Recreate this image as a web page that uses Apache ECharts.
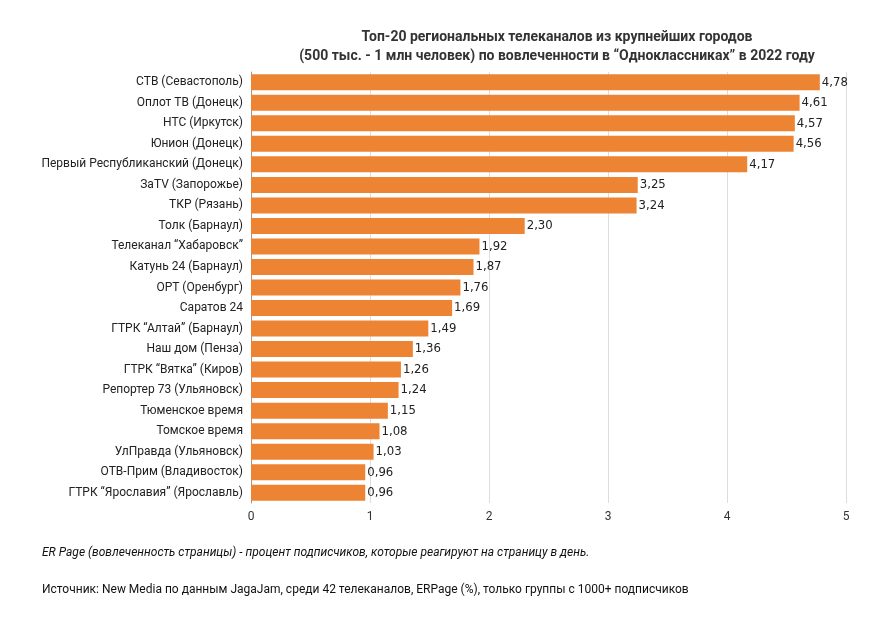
<!DOCTYPE html>
<html><head><meta charset="utf-8">
<script src="https://cdn.jsdelivr.net/npm/echarts@6/dist/echarts.min.js"></script>
<style>body{margin:0}#c{width:885px;height:623px}</style></head>
<body><div id="c"></div>
<script>
var categories = ['СТВ (Севастополь)','Оплот ТВ (Донецк)','НТС (Иркутск)','Юнион (Донецк)','Первый Республиканский (Донецк)','ЗаTV (Запорожье)','ТКР (Рязань)','Толк (Барнаул)','Телеканал “Хабаровск”','Катунь 24 (Барнаул)','ОРТ (Оренбург)','Саратов 24','ГТРК “Алтай” (Барнаул)','Наш дом (Пенза)','ГТРК “Вятка” (Киров)','Репортер 73 (Ульяновск)','Тюменское время','Томское время','УлПравда (Ульяновск)','ОТВ-Прим (Владивосток)','ГТРК “Ярославия” (Ярославль)'];
var values = [4.78,4.61,4.57,4.56,4.17,3.25,3.24,2.30,1.92,1.87,1.76,1.69,1.49,1.36,1.26,1.24,1.15,1.08,1.03,0.96,0.96];

var chart = echarts.init(document.getElementById('c'));
chart.setOption({
  textStyle: { fontFamily: 'Roboto, sans-serif' },
  title: {
    text: 'Топ-20 региональных телеканалов из крупнейших городов\n(500 тыс. - 1 млн человек) по вовлеченности в “Одноклассниках” в 2022 году',
    left: 552, top: 23, textAlign: 'center',
    textStyle: { fontSize: 14, fontWeight: 'bold', color: '#333', lineHeight: 19 }
  },
  graphic: [
    { type: 'text', left: 42, top: 547, style: { text: 'ER Page (вовлеченность страницы) - процент подписчиков, которые реагируют на страницу в день.', font: 'italic 12px Roboto, sans-serif', fill: '#111' } },
    { type: 'text', left: 42, top: 584, style: { text: 'Источник: New Media по данным JagaJam, среди 42 телеканалов, ERPage (%), только группы с 1000+ подписчиков', font: '12px Roboto, sans-serif', fill: '#111' } }
  ],
  grid: { left: 251, right: 39, top: 72, bottom: 120 },
  xAxis: {
    type: 'value', min: 0, max: 5, interval: 1,
    axisLabel: { color: '#333', fontSize: 12 },
    splitLine: { lineStyle: { color: '#ddd' } }
  },
  yAxis: {
    type: 'category', data: categories, inverse: true,
    axisTick: { show: false },
    axisLine: { lineStyle: { color: '#999' } },
    axisLabel: { color: '#222', fontSize: 12, margin: 8 }
  },
  series: [{
    type: 'bar', data: values, barWidth: 16,
    itemStyle: { color: '#ec8434' },
    label: { show: true, position: 'right', distance: 2, color: '#222', fontSize: 13,
      fontFamily: '"DejaVu Sans Condensed", "Liberation Sans Narrow", sans-serif',
      formatter: function (p) { return p.value.toFixed(2).replace('.', ','); } }
  }]
});
</script></body></html>
